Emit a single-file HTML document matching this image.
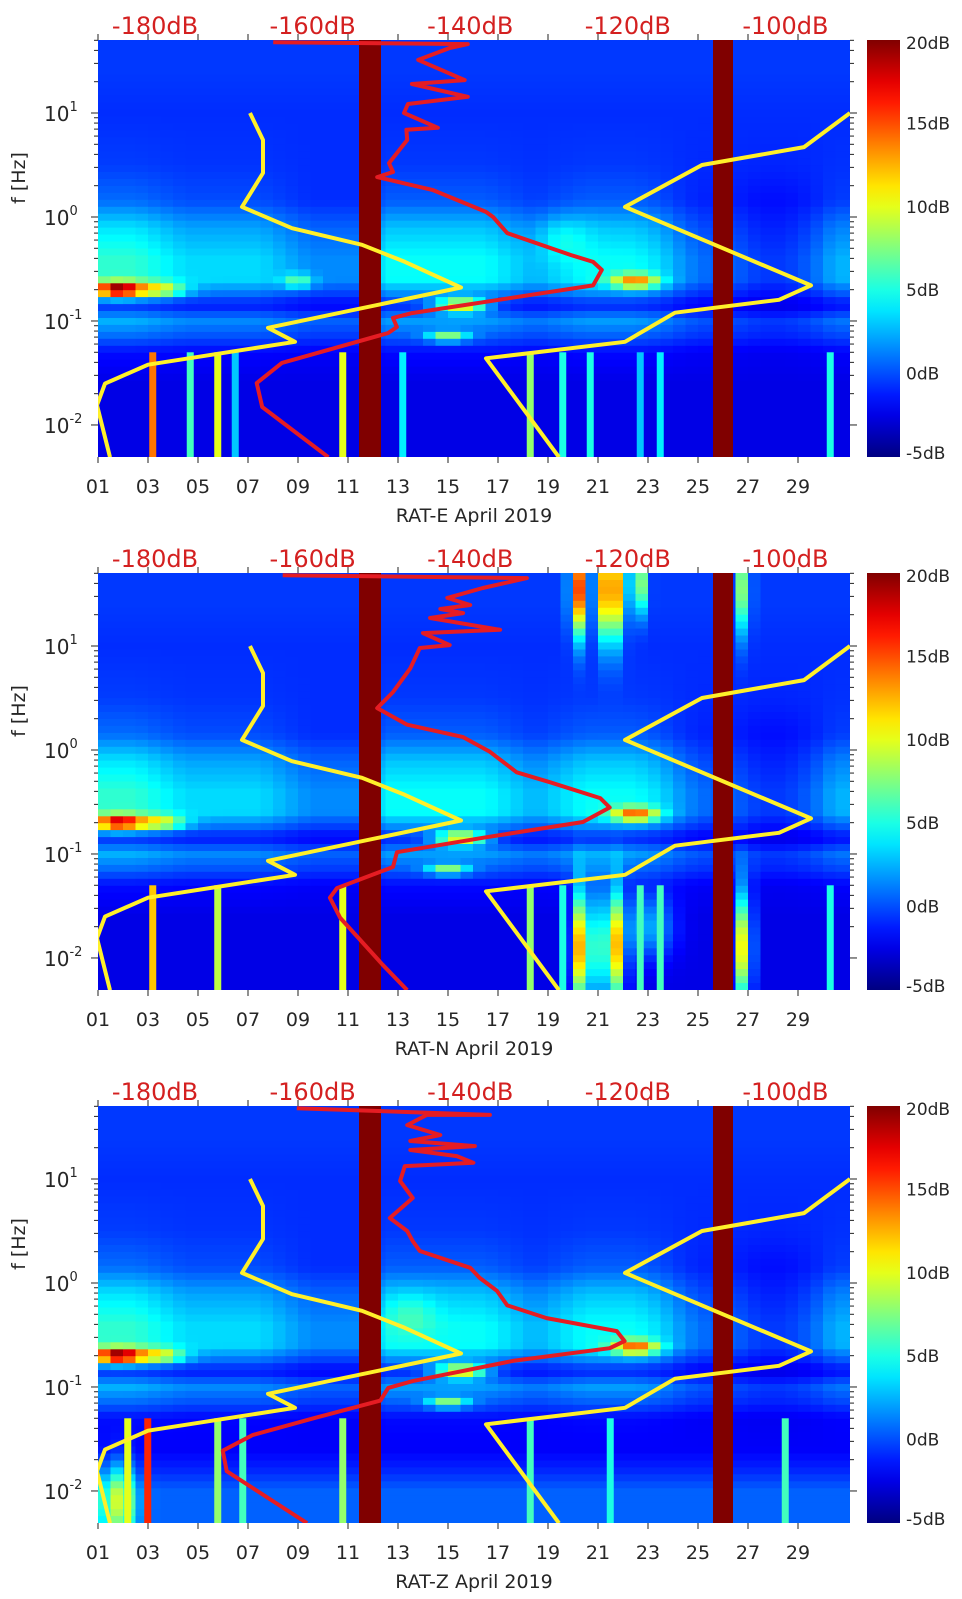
<!DOCTYPE html>
<html><head><meta charset="utf-8"><style>
html,body{margin:0;padding:0;background:#fff}
svg{display:block}
text{font-family:"DejaVu Sans","Liberation Sans",sans-serif}
</style></head><body>
<svg id="fig" xmlns="http://www.w3.org/2000/svg" width="962" height="1599" viewBox="0 0 962 1599"></svg>
<script>
// ===== shared axis data =====
const dayTicks=[1,3,5,7,9,11,13,15,17,19,21,23,25,27,29];
const dayTickLabels=["01","03","05","07","09","11","13","15","17","19","21","23","25","27","29"];
const freqDecades=[-2,-1,0,1];
const dbTicks=[-180,-160,-140,-120,-100];
const cbTicks=[20,15,10,5,0,-5];
const gapStart=[11.44,25.6];
const gapEnd=[12.32,26.4];
const panelTitles=["RAT-E April 2019","RAT-N April 2019","RAT-Z April 2019"];
// ===== yellow noise-model curves (day, Hz) =====
const yelA_day=[7.08,7.6,7.6,6.76,8.76,11.56,13.28,15.52,7.8,8.88,3.0,1.28,0.96,1.48];
const yelA_f=[10,5.5,2.65,1.25,0.78,0.54,0.37,0.21,0.086,0.063,0.038,0.025,0.0155,0.0049];
const yelB_day=[19.44,16.52,22.08,24.08,28.24,29.52,22.08,25.16,29.24,31.08];
const yelB_f=[0.0049,0.0438,0.063,0.12,0.16,0.22,1.25,3.16,4.7,10];
// ===== red PSD curves (dB, Hz) =====
const red1_db=[-165,-140.3,-142.6,-146.6,-140.7,-147.4,-140.3,-147.9,-148.4,-144.1,-148.1,-148,-150.3,-149.8,-151.8,-144.8,-138,-137.1,-135.3,-127.2,-124.4,-123.3,-124.4,-147.4,-149.8,-149.3,-150.4,-163.9,-167.1,-166.4,-158];
const red1_f=[48,46,42.2,32.4,20.7,19,14.3,12.2,10,7.2,6.9,5.5,3.3,2.71,2.42,1.82,1.12,1.0,0.7,0.43,0.37,0.31,0.22,0.119,0.107,0.0875,0.0767,0.0395,0.0253,0.0149,0.0049];
const red2_db=[-163.8,-132.8,-138.4,-142.9,-140,-143.8,-140.9,-145.1,-136.2,-146,-142.6,-146.4,-147.6,-149.8,-151.8,-148,-140.9,-137.5,-134.1,-129.9,-123.5,-122.3,-125.7,-138.4,-149.3,-149.8,-156.9,-157.8,-156.5,-151.1,-148];
const red2_f=[48,45,36.1,29,24.8,22.7,20.7,18.6,14.3,13.3,10.2,9.57,6.1,3.6,2.53,1.75,1.33,0.96,0.61,0.49,0.345,0.28,0.203,0.143,0.104,0.075,0.047,0.038,0.0243,0.0086,0.0049];
const red3_db=[-162,-137.5,-145.5,-148,-143.8,-147.6,-139.4,-147.6,-141.7,-139.6,-148.3,-148.9,-147.3,-150.2,-148,-147.3,-146.4,-140,-138.8,-136.6,-135.3,-130.3,-121.4,-120.4,-122.3,-134.6,-147.3,-150.4,-151.4,-159.9,-167.6,-171.4,-170.9,-160.7];
const red3_f=[48,41.3,41.3,33,26.5,23.2,20.7,19,16.6,14.3,13.3,9.57,6.56,4.22,3.16,2.53,2.03,1.4,1.12,0.84,0.61,0.46,0.345,0.276,0.236,0.178,0.114,0.098,0.074,0.05,0.0345,0.0244,0.0155,0.0049];
// ===== spectrogram model values (dB) =====
const rowLogF=[1.7,1.4,1.0,0.5,0.15,-0.1,-0.4,-0.6,-0.75,-0.85,-1.0,-1.15,-1.3,-1.6,-1.8,-2.0,-2.31];
const rowWeight=[0,0,0,0.1,0.4,0.8,1,1,0.6,0.3,0.5,0.3,0.1,0,0,0,0];
const profile1=[-0.5,-0.5,-0.8,-0.8,-0.8,0.5,1.5,1.5,-0.5,-2,0.5,-0.5,-2,-2.5,-2.5,-2.5,-2.5];
const profile2=[-0.5,-0.5,-0.8,-0.8,-0.8,0.5,1.5,1.5,-0.5,-2,0.5,-0.5,-2,-2.5,-2.5,-2.5,-2.5];
const profile3=[-0.5,-0.5,-0.8,-0.8,-0.8,0.5,1.5,1.5,-0.5,-2,0.5,-0.5,-2,-2,-1,0.5,0.5];
const dayBoost1=[4,4,3,2,2,2,2,1,0,0,0,3,3,3,3,3,2,1,2,3,3,3,2,0,-1,-1,-2,-2,-1,1];
const dayBoost2=[4,4,3,2,2,2,2,1,0,0,0,3,3,3,3,3,2,1,2,3,3,3,2,0,-1,-1,-2,-2,-1,1];
const dayBoost3=[4,4,3,2,2,2,2,1,0,0,0,3,3,3,3,3,2,1,2,3,3,3,2,0,-1,-1,-2,-2,-1,1];
const blob1_day=[1.8,3.5,15.5,22.5,15,9,19.5];
const blob1_logf=[-0.7,-0.7,-0.85,-0.62,-1.15,-0.62,-0.2];
const blob1_db=[18,8,12,10,8,5,2];
const blob1_dw=[1,1,1,0.9,0.8,0.6,1];
const blob1_lw=[0.07,0.07,0.07,0.07,0.05,0.07,0.2];
const blob2_day=[1.8,3.5,15.5,22.5,15,20.2,21.5,22.6,26.9,20.2,21.0,21.8,26.8,23];
const blob2_logf=[-0.7,-0.7,-0.85,-0.62,-1.15,1.55,1.55,1.6,1.55,-1.9,-1.9,-1.9,-1.9,-1.7];
const blob2_db=[16,8,12,11,8,16,18,10,14,15,11,14,13,5];
const blob2_dw=[1,1,1,0.9,0.8,0.3,0.45,0.3,0.2,0.3,0.4,0.3,0.35,1];
const blob2_lw=[0.07,0.07,0.07,0.07,0.05,0.45,0.5,0.3,0.45,0.55,0.55,0.55,0.55,0.3];
const blob3_day=[1.8,3.5,15.5,22.5,15,1.8,13.5];
const blob3_logf=[-0.7,-0.7,-0.85,-0.62,-1.15,-2.1,-0.3];
const blob3_db=[18,8,12,11,8,9,2];
const blob3_dw=[1,1,1,0.9,0.8,0.7,1];
const blob3_lw=[0.07,0.07,0.07,0.07,0.05,0.35,0.2];
const streak1_day=[3.2,4.7,5.8,6.5,10.8,13.2,18.3,19.6,20.7,22.7,23.5,30.3];
const streak1_db=[14,6,10,3,10,4,8,5,5,3,4,5];
const streak2_day=[3.2,5.8,10.8,18.3,19.6,22.7,23.5,30.3];
const streak2_db=[12,9,10,8,5,6,6,5];
const streak3_day=[2.2,3.0,5.8,6.8,10.8,18.3,21.5,28.5];
const streak3_db=[10,16,8,6,8,6,5,6];

const NS="http://www.w3.org/2000/svg";
const svg=document.getElementById('fig');
const L=98,W=752,PH=417,LOGTOP=1.702,LOGBOT=-2.308;
function mk(tag,attrs,parent){const e=document.createElementNS(NS,tag);for(const k in attrs)e.setAttribute(k,attrs[k]);(parent||svg).appendChild(e);return e;}
function xDay(d){return L+(d-1)*25;}
function yF(top,f){return top+(LOGTOP-Math.log10(f))*(PH/(LOGTOP-LOGBOT));}
function yLog(top,lf){return top+(LOGTOP-lf)*(PH/(LOGTOP-LOGBOT));}
function xDb(db){return 155+(db+180)*7.88;}
function cl(v){return Math.max(0,Math.min(1,v));}
function jet(v){const t=cl((v+5)/25);const r=cl(1.5-Math.abs(4*t-3)),g=cl(1.5-Math.abs(4*t-2)),b=cl(1.5-Math.abs(4*t-1));return `rgb(${Math.round(r*255)},${Math.round(g*255)},${Math.round(b*255)})`;}
function interpRow(arr,lf){for(let i=0;i<rowLogF.length-1;i++){const a=rowLogF[i],b=rowLogF[i+1];if(lf<=a&&lf>=b){const t=(a-lf)/(a-b);return arr[i]*(1-t)+arr[i+1]*t;}}return lf>rowLogF[0]?arr[0]:arr[arr.length-1];}
function interpDay(arr,d){const p=d-1.5;const i=Math.max(0,Math.min(arr.length-1,Math.floor(p)));const j=Math.min(arr.length-1,i+1);const t=Math.max(0,Math.min(1,p-i));return arr[i]*(1-t)+arr[j]*t;}

const panels=[
 {profile:profile1,boost:dayBoost1,bd:blob1_day,bl:blob1_logf,bv:blob1_db,bdw:blob1_dw,blw:blob1_lw,sd:streak1_day,sv:streak1_db,rdb:red1_db,rf:red1_f},
 {profile:profile2,boost:dayBoost2,bd:blob2_day,bl:blob2_logf,bv:blob2_db,bdw:blob2_dw,blw:blob2_lw,sd:streak2_day,sv:streak2_db,rdb:red2_db,rf:red2_f},
 {profile:profile3,boost:dayBoost3,bd:blob3_day,bl:blob3_logf,bv:blob3_db,bdw:blob3_dw,blw:blob3_lw,sd:streak3_day,sv:streak3_db,rdb:red3_db,rf:red3_f}
];

const defs=mk('defs',{});
const grad=mk('linearGradient',{id:'jetg',x1:0,y1:1,x2:0,y2:0},defs);
for(let i=0;i<=20;i++){mk('stop',{offset:(i/20),'stop-color':jet(-5+25*i/20)},grad);}

panels.forEach((P,pi)=>{
  const top=40+533*pi;
  const g=mk('g',{});
  
  
  const cp=mk('clipPath',{id:'clip'+pi},defs);
  mk('rect',{x:L,y:top,width:W,height:PH},cp);
  const hm=mk('g',{'clip-path':`url(#clip${pi})`},g);
  
  
  const nR=60,nC=61,dStep=0.5;
  const lstep=(LOGTOP-LOGBOT)/nR;
  for(let c=0;c<nC;c++){
    const d=1+c*dStep+dStep/2;
    const bst=interpDay(P.boost,d);
    for(let r=0;r<nR;r++){
      const lf=LOGTOP-(r+0.5)*lstep;
      let v=interpRow(P.profile,lf)+interpRow(rowWeight,lf)*bst;
      for(let k=0;k<P.bd.length;k++){
        const dx=(d-P.bd[k])/P.bdw[k],dy=(lf-P.bl[k])/P.blw[k];
        v+=P.bv[k]*Math.exp(-(dx*dx+dy*dy));
      }
      const rc=mk('rect',{x:xDay(1+c*dStep).toFixed(1),y:yLog(top,LOGTOP-r*lstep).toFixed(1),width:12.6,height:(PH/nR+0.6).toFixed(1),fill:jet(v)},hm);
      
      
    }
  }
  for(let k=0;k<P.sd.length;k++){
    const s=mk('rect',{x:xDay(P.sd[k]-0.15),y:yF(top,0.05),width:7,height:yF(top,0.0049)-yF(top,0.05),fill:jet(P.sv[k])},hm);
    
    
  }
  for(let k=0;k<gapStart.length;k++){
    const gr=mk('rect',{x:xDay(gapStart[k]),y:top,width:xDay(gapEnd[k])-xDay(gapStart[k]),height:PH,fill:'#800000'},hm);
    
    
  }
  [[yelA_day,yelA_f],[yelB_day,yelB_f]].forEach(([dd,ff])=>{
    const pts=dd.map((d,i)=>xDay(d).toFixed(1)+','+yF(top,ff[i]).toFixed(1)).join(' ');
    const pl=mk('polyline',{points:pts,fill:'none',stroke:'#fff02a','stroke-width':4,'stroke-linejoin':'round'},hm);
    
    
  });
  const rpts=P.rdb.map((db,i)=>xDb(db).toFixed(1)+','+yF(top,P.rf[i]).toFixed(1)).join(' ');
  const rl=mk('polyline',{points:rpts,fill:'none',stroke:'#e51c23','stroke-width':4,'stroke-linejoin':'round'},hm);
  
  
  const tk=mk('g',{stroke:'#222','stroke-width':1},g);
  dayTicks.forEach((d,i)=>{
    const x=xDay(d);
    mk('line',{x1:x,y1:top+PH,x2:x,y2:top+PH+6},tk);
    mk('line',{x1:x,y1:top,x2:x,y2:top-6},tk);
    const t=mk('text',{x:x,y:top+PH+36,'text-anchor':'middle','font-size':19,fill:'#262626'},g);
    t.textContent=dayTickLabels[i];
    
    
  });
  freqDecades.forEach(dec=>{
    for(let m=1;m<10;m++){
      const lf=dec+Math.log10(m);
      if(lf>LOGTOP||lf<LOGBOT)continue;
      const y=yLog(top,lf);const len=m===1?7:4;
      mk('line',{x1:L,y1:y,x2:L-len,y2:y},tk);
      mk('line',{x1:L+W,y1:y,x2:L+W+len,y2:y},tk);
    }
    const y=yLog(top,dec);
    const t=mk('text',{x:44,y:y+8,'font-size':20,fill:'#262626'},g);
    
    
    t.appendChild(document.createTextNode('10'));
    const sp=mk('tspan',{dy:-10,'font-size':13},t);sp.textContent=String(dec);
  });
  dbTicks.forEach(db=>{
    const t=mk('text',{x:xDb(db),y:top-6,'text-anchor':'middle','font-size':24,fill:'#d42020'},g);
    t.textContent=db+'dB';
    
    
  });
  const yt=mk('text',{x:0,y:0,transform:`translate(25,${top+138}) rotate(-90)`,'text-anchor':'middle','font-size':19,fill:'#262626'},g);
  yt.textContent='f [Hz]';
  
  
  const xt=mk('text',{x:L+W/2,y:top+PH+65,'text-anchor':'middle','font-size':19,fill:'#262626'},g);
  xt.textContent=panelTitles[pi];
  
  
  const cb=mk('rect',{x:867,y:top,width:33,height:PH,fill:'url(#jetg)'},g);
  
  
  cbTicks.forEach(v=>{
    const y=top+(20-v)/25*PH;
    const t=mk('text',{x:906,y:y+(v===20?9:v===-5?2:6),'font-size':17,fill:'#262626'},g);
    t.textContent=v+'dB';
    
    
  });
});
</script>
</body></html>
